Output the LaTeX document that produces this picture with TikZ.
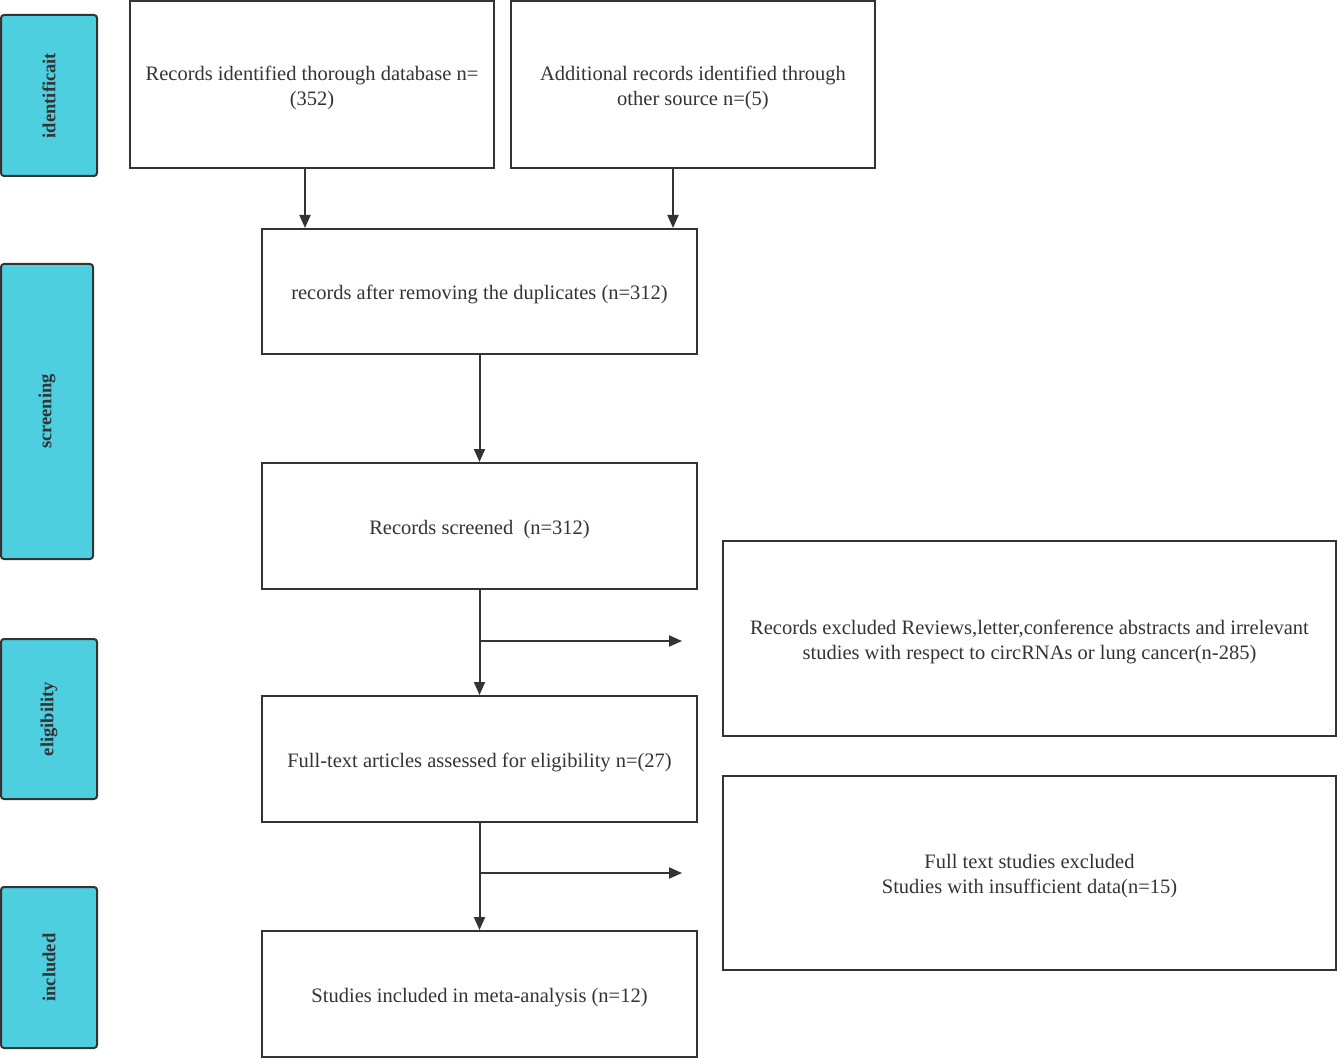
\documentclass[tikz,border=0pt]{standalone}
\usepackage{fontspec}
\setmainfont{Liberation Serif}
\usetikzlibrary{arrows.meta}
\definecolor{side}{RGB}{77,207,224}
\definecolor{ink}{RGB}{51,51,51}
\newcommand\liftline{\rule{0pt}{21pt}}
\begin{document}
\begin{tikzpicture}[x=1pt,y=-1pt,
  box/.style={draw=ink,line width=2pt,align=center,inner sep=0pt,
    font=\fontsize{20.5}{25}\selectfont,text=ink},
  sidebox/.style={draw=ink,fill=side,line width=2pt,rounded corners=3pt,inner sep=0pt},
  sidelabel/.style={rotate=90,font=\fontsize{18.5}{20}\selectfont\bfseries,text=ink},
  arr/.style={draw=ink,line width=2pt,-{Triangle[length=13pt,width=11pt]}}]
\useasboundingbox (0,0) rectangle (1338,1059);
% side boxes
\node[sidebox,minimum width=96,minimum height=161] (s1) at (49,95.5) {};
\node[sidelabel] at (s1.center) {identificait};
\node[sidebox,minimum width=92,minimum height=295] (s2) at (47,411.5) {};
\node[sidelabel] at (s2.center) {screening};
\node[sidebox,minimum width=96,minimum height=160] (s3) at (49,719) {};
\node[sidelabel] at (s3.center) {eligibility};
\node[sidebox,minimum width=96,minimum height=161] (s4) at (49,967.5) {};
\node[sidelabel] at (s4.center) {included};
% main boxes
\node[box,minimum width=364,minimum height=167] (A) at (312,84.5) {\liftline Records identified thorough database n=\\(352)};
\node[box,minimum width=364,minimum height=167] (B) at (693,84.5) {\liftline Additional records identified through\\other source n=(5)};
\node[box,minimum width=435,minimum height=125] (C) at (479.5,291.5) {\liftline records after removing the duplicates (n=312)};
\node[box,minimum width=435,minimum height=126] (D) at (479.5,526) {\liftline Records screened\ \ (n=312)};
\node[box,minimum width=613,minimum height=195] (E) at (1029.5,638.5) {\liftline Records excluded Reviews,letter,conference abstracts and irrelevant\\studies with respect to circRNAs or lung cancer(n-285)};
\node[box,minimum width=435,minimum height=126] (F) at (479.5,759) {\liftline Full-text articles assessed for eligibility n=(27)};
\node[box,minimum width=613,minimum height=194] (G) at (1029.5,873) {\liftline Full text studies excluded\\Studies with insufficient data(n=15)};
\node[box,minimum width=435,minimum height=126] (H) at (479.5,994) {\liftline Studies included in meta-analysis (n=12)};
% connectors
\draw[arr] ([xshift=-7]A.south) -- ([xshift=-7]A.south |- C.north);
\draw[arr] ([xshift=-20]B.south) -- ([xshift=-20]B.south |- C.north);
\draw[arr] (C.south) -- (D.north);
\draw[arr] (D.south) -- (F.north);
\draw[arr] (F.south) -- (H.north);
\coordinate (e1) at (682,641);
\coordinate (e2) at (682,873);
\draw[arr] (D.south |- e1) -- (e1);
\draw[arr] (F.south |- e2) -- (e2);
\end{tikzpicture}
\end{document}
